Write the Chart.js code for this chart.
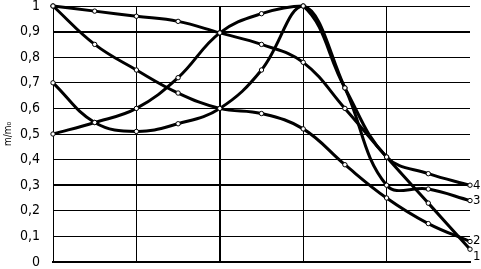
<!DOCTYPE html>
<html>
<head>
<meta charset="utf-8">
<script src="https://cdn.jsdelivr.net/npm/chart.js@4/dist/chart.umd.min.js"></script>
<style>
html,body{margin:0;padding:0;background:#fff;}
canvas{display:block;}
</style>
</head>
<body>
<canvas id="c" width="481" height="269"></canvas>
<script>
// x positions (equally spaced measurement points)
const xs = [0, 1, 2, 3, 4, 5, 6, 7, 8, 9, 10];
// series values
const curve1 = [1.00, 0.98, 0.96, 0.94, 0.895, 0.85, 0.78, 0.60, 0.41, 0.23, 0.05];
const curve2 = [1.00, 0.85, 0.75, 0.66, 0.60, 0.58, 0.52, 0.38, 0.25, 0.15, 0.08];
const curve3 = [0.70, 0.545, 0.51, 0.54, 0.60, 0.75, 1.00, 0.68, 0.30, 0.285, 0.24];
const curve4 = [0.50, 0.545, 0.60, 0.72, 0.895, 0.97, 1.00, 0.68, 0.41, 0.345, 0.30];
const seriesNames = ['1', '2', '3', '4'];
const yTicks = [0, 0.1, 0.2, 0.3, 0.4, 0.5, 0.6, 0.7, 0.8, 0.9, 1];
const yTitle = 'm/m₀';

const allSeries = [curve1, curve2, curve3, curve4];
const FONT = "'Liberation Sans Narrow', 'DejaVu Sans Condensed', 'Liberation Sans', sans-serif";

const endLabels = {
  id: 'endLabels',
  afterDatasetsDraw(chart) {
    const ctx = chart.ctx;
    const xS = chart.scales.x, yS = chart.scales.y;
    ctx.save();
    ctx.fillStyle = '#000';
    ctx.font = '13px ' + FONT;
    ctx.textAlign = 'left';
    ctx.textBaseline = 'middle';
    const nudges = [7, -1, 0, 0];
    allSeries.forEach((s, i) => {
      const v = s[s.length - 1];
      const x = xS.getPixelForValue(xs[xs.length - 1]) + 3;
      const y = yS.getPixelForValue(v) + nudges[i];
      ctx.fillText(seriesNames[i], x, y);
    });
    ctx.restore();
  }
};

const datasets = allSeries.map((s, i) => ({
  label: seriesNames[i],
  data: xs.map((x, j) => ({x: x, y: s[j]})),
  borderColor: '#000',
  borderWidth: 3,
  tension: 0.4,
  fill: false,
  pointRadius: 2.2,
  pointBackgroundColor: '#fff',
  pointBorderColor: '#000',
  pointBorderWidth: 1,
  clip: 4
}));

const r1 = v => Math.round(v * 10) / 10;

new Chart(document.getElementById('c'), {
  type: 'line',
  data: { datasets },
  options: {
    responsive: false,
    devicePixelRatio: 1,
    animation: false,
    layout: { padding: { top: 6, right: 11, bottom: 7, left: 0 } },
    plugins: { legend: { display: false }, tooltip: { enabled: false } },
    scales: {
      x: {
        type: 'linear',
        min: 0, max: 10,
        ticks: { display: false, stepSize: 2 },
        grid: {
          drawTicks: false,
          color: ctx => (ctx.tick && ctx.tick.value === 10) ? 'rgba(0,0,0,0)' : '#000',
          lineWidth: ctx => (ctx.tick && ctx.tick.value === 4) ? 2 : 1
        },
        border: { display: true, color: '#000', width: 2 },
        afterFit: s => { s.height = 0; s.paddingLeft = 0; s.paddingRight = 0; }
      },
      y: {
        type: 'linear',
        min: 0, max: 1,
        afterBuildTicks: s => { s.ticks = yTicks.map(v => ({value: v})); },
        ticks: {
          padding: 13,
          color: '#000',
          font: { family: FONT, size: 14 },
          callback: v => {
            const r = r1(v);
            if (r === 0) return '0';
            if (r === 1) return '1';
            return r.toFixed(1).replace('.', ',');
          }
        },
        grid: {
          drawTicks: false,
          color: '#000',
          lineWidth: ctx => {
            if (!ctx.tick) return 1;
            const r = r1(ctx.tick.value);
            return (r === 0.3 || r === 0.9) ? 2 : 1;
          }
        },
        border: { display: true, color: '#000', width: 1 },
        title: {
          display: true,
          text: yTitle,
          color: '#000',
          font: { family: FONT, size: 10 },
          padding: { top: 2, bottom: 2 }
        },
        afterFit: s => { s.width = 53; s.paddingTop = 0; s.paddingBottom = 0; }
      }
    }
  },
  plugins: [endLabels]
});
</script>
</body>
</html>
